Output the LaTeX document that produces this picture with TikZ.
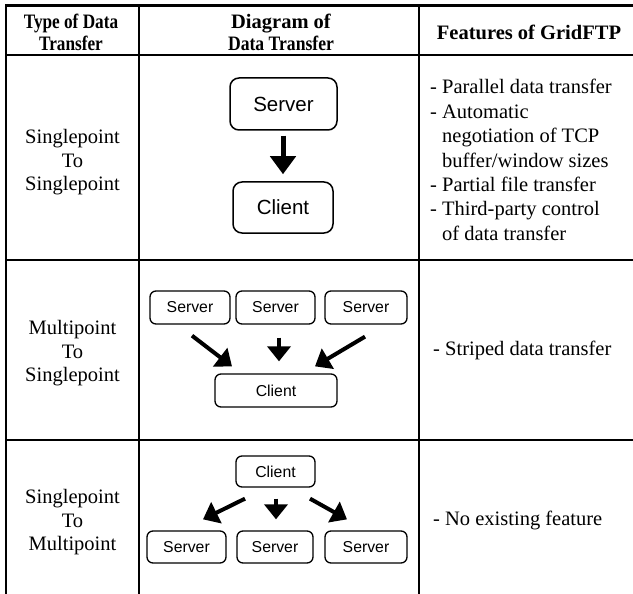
\documentclass[tikz,border=0pt]{standalone}
\usepackage{fontspec}
\usepackage{graphicx}
\setmainfont{Liberation Serif}
\newfontfamily\boxfont{Liberation Sans}
\usetikzlibrary{arrows.meta,calc}

\tikzset{
  gridline/.style={line width=2.2pt},
  bigbox/.style={draw, line width=1.5pt, rounded corners=9pt, inner sep=0pt,
    font=\boxfont\fontsize{20.5}{24}\selectfont},
  smallbox/.style={draw, line width=1.3pt, rounded corners=6pt, inner sep=0pt,
    font=\boxfont\fontsize{15.8}{19}\selectfont},
  bigarrow/.style={line width=5pt, -{Triangle[length=18pt,width=25pt]}},
  smallarrow/.style={line width=4pt, -{Triangle[length=15pt,width=23pt]}},
  celltext/.style={font=\fontsize{20.5}{23.5}\selectfont, align=center, inner sep=0pt},
  feattext/.style={font=\fontsize{20.5}{24.4}\selectfont, align=left, anchor=west, inner sep=0pt},
  headtext/.style={font=\bfseries\fontsize{20.5}{22}\selectfont, align=center, inner sep=0pt},
}

\begin{document}
\begin{tikzpicture}[x=1pt,y=-1pt]
  \useasboundingbox (0,0) rectangle (633,594);

  % table rules
  \draw[gridline] (6,5.5) -- (633,5.5);
  \draw[gridline] (6,55) -- (633,55);
  \draw[gridline] (6,260) -- (633,260);
  \draw[gridline] (6,440) -- (633,440);
  \draw[gridline] (6,4.4) -- (6,594);
  \draw[gridline] (139,4.4) -- (139,594);
  \draw[gridline] (419,4.4) -- (419,594);

  % header row
  \node[headtext] (h1) at (71,32) {\scalebox{0.84}[1]{Type of Data}\\\scalebox{0.84}[1]{Transfer}};
  \node[headtext] (h2) at (281,32) {Diagram of\\\scalebox{0.86}[1]{Data Transfer}};
  \node[headtext] (h3) at (529,32) {Features of GridFTP};

  % row 1: singlepoint to singlepoint
  \node[celltext] (t1) at (72.5,162.25) {Singlepoint\\To\\Singlepoint};
  \node[bigbox, minimum width=107pt, minimum height=52pt] (a-s) at (283.5,104) {Server};
  \node[bigbox, minimum width=100pt, minimum height=51pt] (a-c) at (283,207.5) {Client};
  \draw[bigarrow] ($(a-s.south)+(-0.5,5)$) -- ($(a-c.north)+(0,-7)$);
  \node[feattext] (f1) at (430,160) {- Parallel data transfer\\- Automatic\\\phantom{- }negotiation of TCP\\\phantom{- }buffer/window sizes\\- Partial file transfer\\- Third-party control\\\phantom{- }of data transfer};

  % row 2: multipoint to singlepoint
  \node[celltext] (t2) at (72.5,353.25) {Multipoint\\To\\Singlepoint};
  \node[smallbox, minimum width=80pt, minimum height=33pt] (b-s1) at (190,307.5) {Server};
  \node[smallbox, minimum width=79pt, minimum height=33pt] (b-s2) at (275.5,307.5) {Server};
  \node[smallbox, minimum width=82pt, minimum height=33pt] (b-s3) at (366,307.5) {Server};
  \node[smallbox, minimum width=122pt, minimum height=33pt] (b-c) at (276,390.5) {Client};
  \draw[smallarrow] ($(b-s1.south)+(2,11)$) -- ($(b-c.north)+(-44,-7)$);
  \draw[smallarrow] ($(b-s2.south)+(3.5,13)$) -- ($(b-c.north)+(3,-12)$);
  \draw[smallarrow] ($(b-s3.south)+(-1,12)$) -- ($(b-c.north)+(39,-7)$);
  \node[feattext] (f2) at (433,350) {- Striped data transfer};

  % row 3: singlepoint to multipoint
  \node[celltext] (t3) at (72.5,522.25) {Singlepoint\\To\\Multipoint};
  \node[smallbox, minimum width=79pt, minimum height=31pt] (c-c) at (275.5,471.5) {Client};
  \node[smallbox, minimum width=79pt, minimum height=32pt] (c-s1) at (186.5,547) {Server};
  \node[smallbox, minimum width=76pt, minimum height=32pt] (c-s2) at (275,547) {Server};
  \node[smallbox, minimum width=82pt, minimum height=32pt] (c-s3) at (366,547) {Server};
  \draw[smallarrow] ($(c-c.south)+(-30.5,11)$) -- ($(c-s1.north)+(16.5,-11)$);
  \draw[smallarrow] ($(c-c.south)+(0.5,11)$) -- ($(c-s2.north)+(1,-11)$);
  \draw[smallarrow] ($(c-c.south)+(34.5,11)$) -- ($(c-s3.north)+(-19,-11)$);
  \node[feattext] (f3) at (433,520) {- No existing feature};
\end{tikzpicture}
\end{document}
